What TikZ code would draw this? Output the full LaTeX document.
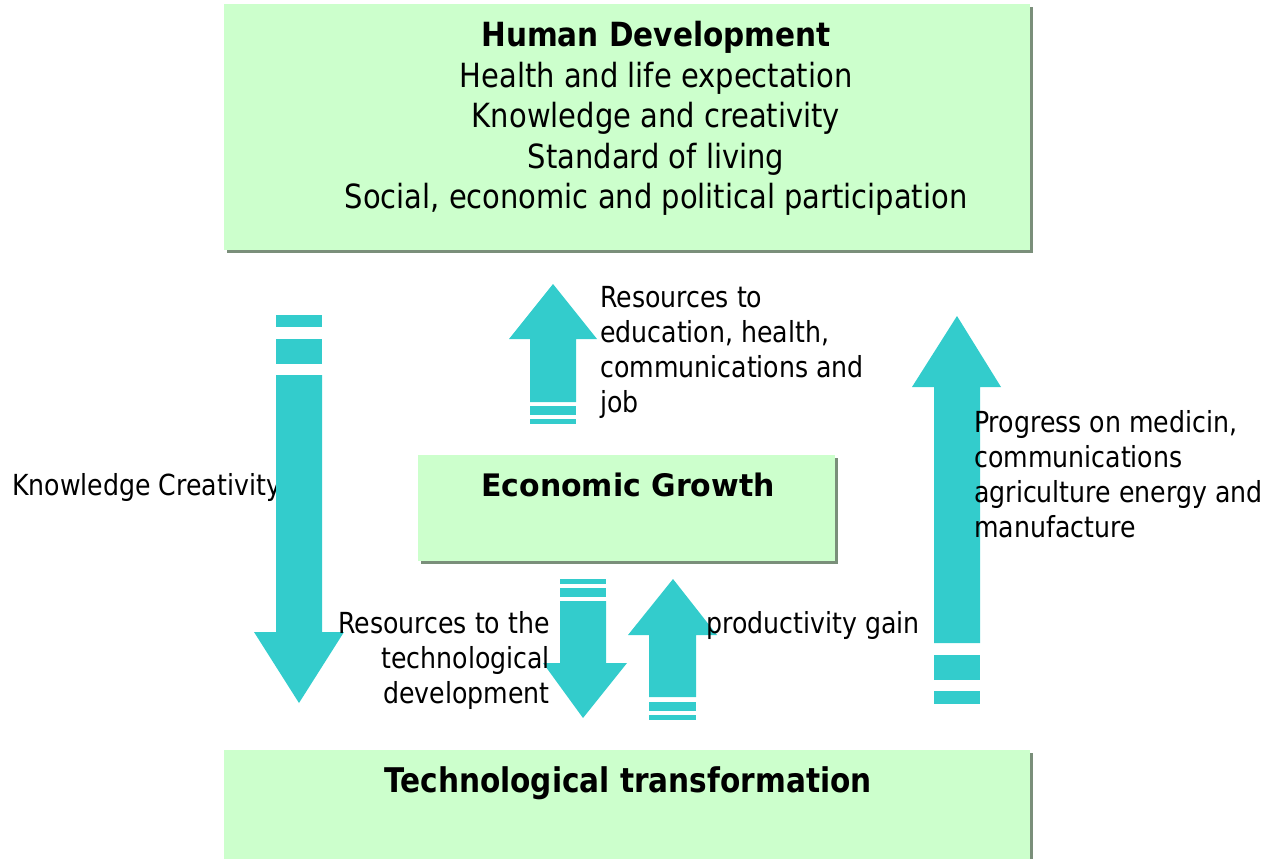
\documentclass[tikz,border=0pt]{standalone}
\usepackage{fontspec}
\setmainfont{DejaVu Sans}[FakeStretch=0.87]
\usetikzlibrary{shadows}
\definecolor{boxfill}{HTML}{CCFFCC}
\definecolor{arrowc}{HTML}{33CCCC}
\definecolor{shadowc}{HTML}{7A8F7A}
\begin{document}
\begin{tikzpicture}[x=1pt,y=-1pt,
  greenbox/.style={draw=none, fill=boxfill, inner sep=0,
    drop shadow={shadow xshift=3pt, shadow yshift=-3pt, fill=shadowc, opacity=1}},
  lbl/.style={inner sep=0, font=\fontsize{29}{35}\selectfont},
  blockarrow/.style={fill=arrowc, draw=none}]
\useasboundingbox (0,0) rectangle (1278,859);
\clip (0,0) rectangle (1278,859);

% boxes
\node[greenbox, minimum width=806pt, minimum height=246pt] (human) at (627,127) {};
\node[greenbox, minimum width=417pt, minimum height=106pt] (econ) at (626.5,508) {};
\node[greenbox, minimum width=806pt, minimum height=125pt] (tech) at (627,812.5) {};

% box texts
\node[anchor=north, align=center, inner sep=0, font=\fontsize{33.3}{40.5}\selectfont] (humantxt) at (656,21)
  {\scalebox{1.02}[1]{\bfseries Human Development}\\Health and life expectation\\Knowledge and creativity\\Standard of living\\Social, economic and political participation};
\node[anchor=north, inner sep=0, font=\bfseries\fontsize{31}{37}\selectfont] (econtxt) at (628,473) {\scalebox{1.11}[1]{Economic Growth}};
\node[anchor=north, inner sep=0, font=\bfseries\fontsize{34}{40}\selectfont] (techtxt) at (628,766) {Technological transformation};

% label under the left arrow
\node[lbl, anchor=north west] (knowlbl) at (12,473) {Knowledge Creativity};

% left down arrow
\fill[blockarrow] (276,315) rectangle (322,327);
\fill[blockarrow] (276,339) rectangle (322,364);
\fill[blockarrow] (276,375) -- (322,375) -- (322,632) -- (344,632) -- (299,703) -- (254,632) -- (276,632) -- cycle;

% middle top up arrow
\fill[blockarrow] (530,419) rectangle (576,424);
\fill[blockarrow] (530,406) rectangle (576,415);
\fill[blockarrow] (530,402) -- (576,402) -- (576,339) -- (597,339) -- (553,284) -- (509,339) -- (530,339) -- cycle;

% right up arrow
\fill[blockarrow] (934,691) rectangle (980,704);
\fill[blockarrow] (934,655) rectangle (980,680);
\fill[blockarrow] (934,643) -- (980,643) -- (980,387) -- (1001,387) -- (957,316) -- (912,387) -- (934,387) -- cycle;

% bottom down arrow
\fill[blockarrow] (560,579) rectangle (606,584);
\fill[blockarrow] (560,588) rectangle (606,597);
\fill[blockarrow] (560,601) -- (606,601) -- (606,663) -- (627,663) -- (583,718) -- (543,663) -- (560,663) -- cycle;

% productivity up arrow
\fill[blockarrow] (649,715) rectangle (696,720);
\fill[blockarrow] (649,702) rectangle (696,711);
\fill[blockarrow] (649,697) -- (696,697) -- (696,635) -- (717,635) -- (673,579) -- (628,635) -- (649,635) -- cycle;

% labels
\node[lbl, anchor=north west, align=left] (reslbl) at (600,286)
  {Resources to\\education, health,\\communications and\\job};
\node[lbl, anchor=north west, align=left] (proglbl) at (974,410)
  {Progress on medicin,\\communications\\agriculture energy and\\manufacture};
\node[lbl, anchor=north east, align=right] (techlbl) at (550,611)
  {Resources to the\\technological\\development};
\node[lbl, anchor=north west] (prodlbl) at (706,611) {productivity gain};
\end{tikzpicture}
\end{document}
